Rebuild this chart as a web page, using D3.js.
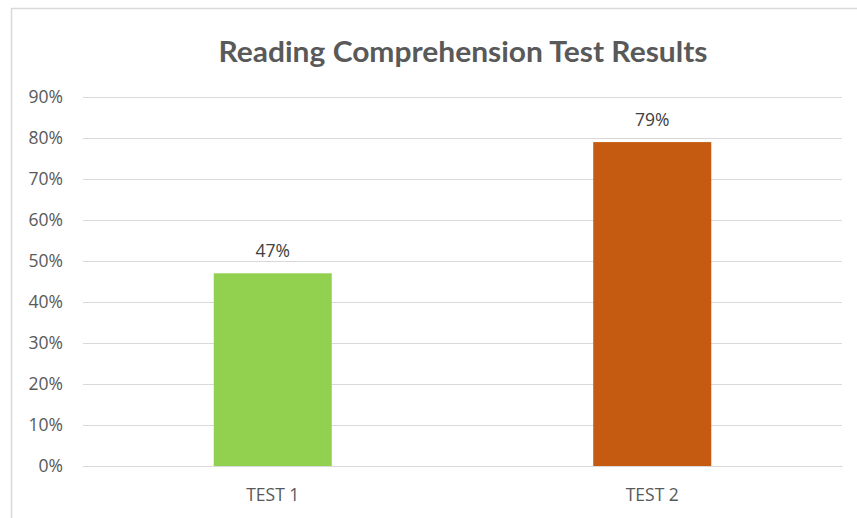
<!DOCTYPE html>
<html><head><meta charset="utf-8">
<script src="https://cdn.jsdelivr.net/npm/d3@7"></script>
<style>body{margin:0;background:#fff}svg{display:block}</style>
</head><body>
<svg id="c" width="857" height="518"></svg>
<script>
const categories = ["TEST 1", "TEST 2"];
const values = [0.47, 0.79];
const tickValues = [0, 0.1, 0.2, 0.3, 0.4, 0.5, 0.6, 0.7, 0.8, 0.9];
const colors = ["#92D050", "#C55A11"];
const title = "Reading Comprehension Test Results";

const svg = d3.select("#c");
const m = {left: 83, right: 15, top: 97, bottom: 52};
const W = 857, H = 518;

// chart border
svg.append("rect").attr("x", 11.5).attr("y", 8.5).attr("width", 900).attr("height", 600)
  .attr("fill", "#fff").attr("stroke", "#d9d9d9").attr("stroke-width", 1.5);

const x = d3.scaleBand().domain(categories).range([m.left, W - m.right]).paddingInner(0.689).paddingOuter(0.3445);
const y = d3.scaleLinear().domain([0, 0.9]).range([H - m.bottom, m.top]);

const fnt = "'Open Sans', sans-serif";
const gy = svg.append("g").attr("transform", `translate(${m.left},0)`)
  .call(d3.axisLeft(y).tickValues(tickValues).tickFormat(d3.format(".0%")).tickSize(-(W - m.right - m.left)).tickPadding(20));
gy.select(".domain").remove();
gy.selectAll(".tick line").attr("stroke", "#d9d9d9").attr("stroke-width", 1);
gy.selectAll(".tick text").attr("fill", "#595959").attr("font-family", fnt).attr("font-size", 17.5);

svg.append("g").selectAll("rect").data(values).join("rect")
  .attr("x", (d, i) => x(categories[i])).attr("width", x.bandwidth())
  .attr("y", d => y(d)).attr("height", d => y(0) - y(d)).attr("fill", (d, i) => colors[i]);

svg.append("g").selectAll("text").data(values).join("text")
  .attr("x", (d, i) => x(categories[i]) + x.bandwidth() / 2).attr("y", d => y(d) - 16)
  .attr("text-anchor", "middle").attr("fill", "#404040")
  .attr("font-family", fnt).attr("font-size", 17.5)
  .text(d => d3.format(".0%")(d));

const gx = svg.append("g").attr("transform", `translate(0,${y(0)})`)
  .call(d3.axisBottom(x).tickSize(0).tickPadding(23));
gx.select(".domain").attr("stroke", "#d9d9d9");
gx.selectAll(".tick text").attr("fill", "#595959").attr("font-family", fnt).attr("font-size", 17.5);

svg.append("text").attr("x", 463).attr("y", 62).attr("text-anchor", "middle")
  .attr("fill", "#595959").attr("font-family", "Lato, sans-serif").attr("font-weight", "bold")
  .attr("font-size", 29).attr("textLength", 489).attr("lengthAdjust", "spacingAndGlyphs")
  .text(title);
</script>
</body></html>
